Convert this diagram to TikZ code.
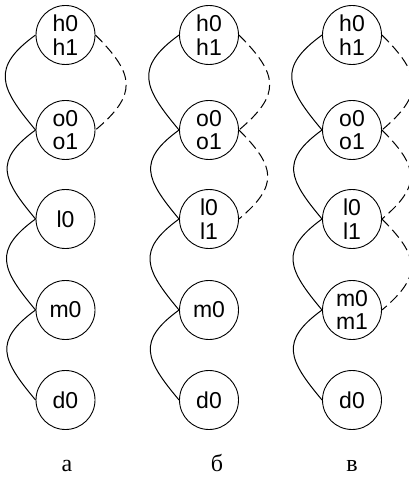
\documentclass[tikz,border=0pt]{standalone}
\usepackage{fontspec}
\setmainfont{Liberation Sans}
\newfontfamily\serifcyr{Liberation Serif}
\begin{document}
\begin{tikzpicture}[x=1pt,y=1pt,
  state/.style={draw, circle, minimum size=59pt, inner sep=0pt, line width=0.9pt,
    align=center, font=\fontsize{23}{23.5}\selectfont},
  solidline/.style={line width=1pt},
  dashline/.style={line width=1pt, dash pattern=on 10pt off 5pt},
  leftbend/.style={out=216, in=130, looseness=1.5},
  rightbend/.style={out=-45, in=40, looseness=1.5},
  caption/.style={font=\serifcyr\fontsize{24}{26}\selectfont, anchor=base}]
\useasboundingbox (0,0) rectangle (408,-478);
% column a
\node[state] (ah) at (65.5,-35) {h0\\h1};
\node[state] (ao) at (65.5,-130) {o0\\o1};
\node[state] (al) at (65.5,-219) {l0};
\node[state] (am) at (65.5,-310) {m0};
\node[state] (ad) at (65.5,-400) {d0};
% column b
\node[state] (bh) at (209,-35) {h0\\h1};
\node[state] (bo) at (209,-130) {o0\\o1};
\node[state] (bl) at (209,-219) {l0\\l1};
\node[state] (bm) at (209,-310) {m0};
\node[state] (bd) at (209,-400) {d0};
% column c
\node[state] (ch) at (352,-35) {h0\\h1};
\node[state] (co) at (352,-130) {o0\\o1};
\node[state] (cl) at (352,-219) {l0\\l1};
\node[state] (cm) at (352,-310) {m0\\m1};
\node[state] (cd) at (352,-400) {d0};
% solid links
\foreach \c in {a,b,c} {
  \draw[solidline] (\c h.west) to[leftbend] (\c o.west);
  \draw[solidline] (\c o.west) to[leftbend] (\c l.west);
  \draw[solidline] (\c l.west) to[leftbend] (\c m.west);
  \draw[solidline] (\c m.west) to[leftbend] (\c d.west);
}
% dashed links
\draw[dashline] (ah.east) to[rightbend] (ao.east);
\draw[dashline] (bh.east) to[rightbend] (bo.east);
\draw[dashline] (bo.east) to[rightbend] (bl.east);
\draw[dashline] (ch.east) to[rightbend] (co.east);
\draw[dashline] (co.east) to[rightbend] (cl.east);
\draw[dashline] (cl.east) to[rightbend] (cm.east);
% captions
\node[caption] (capa) at (67,-471) {а};
\node[caption] (capb) at (217,-471) {б};
\node[caption] (capc) at (352,-471) {в};
\end{tikzpicture}
\end{document}
